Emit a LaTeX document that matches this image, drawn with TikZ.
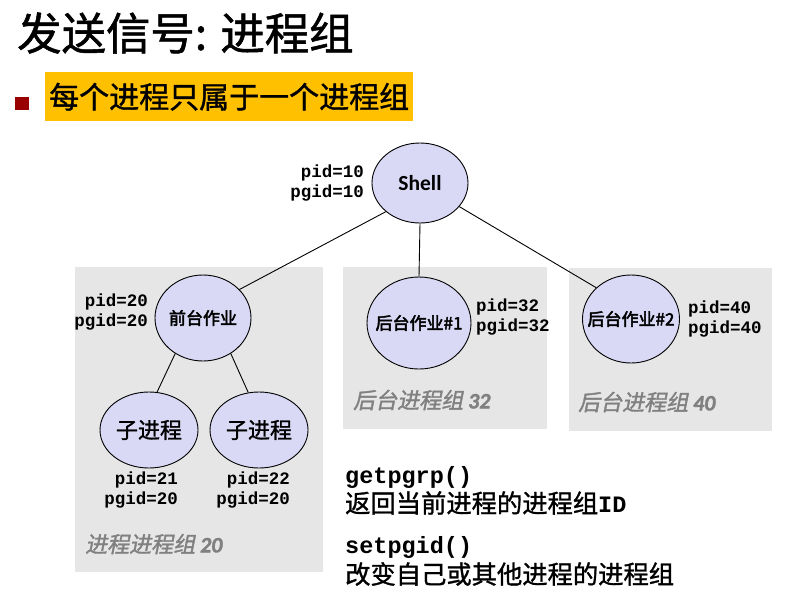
\documentclass[tikz,border=0pt]{standalone}
\usepackage{fontspec}
\setmainfont{Liberation Sans}
\newfontfamily\cjk{Noto Sans CJK SC}[FakeBold=1.2]
\newfontfamily\cjkbf{Noto Sans CJK SC}[FakeBold=2.8]
\newfontfamily\cjkit{Noto Sans CJK SC}[FakeSlant=0.2, FakeBold=1.5]
\newfontfamily\calfont{Carlito}
\newfontfamily\capnum{Carlito}[FakeBold=1.5]
\newfontfamily\pidfont{Liberation Mono}
\usetikzlibrary{shapes.geometric}

\definecolor{procfill}{HTML}{D9D9F5}
\definecolor{groupbg}{HTML}{E6E6E6}
\definecolor{grouptext}{HTML}{808080}
\definecolor{hilite}{HTML}{FFC000}
\definecolor{bulletred}{HTML}{990000}

\tikzset{
  proc/.style={ellipse, draw=black, line width=0.9pt, fill=procfill, inner sep=0pt},
  proctext/.style={inner sep=0pt},
  groupbox/.style={fill=groupbg, inner sep=0pt},
  idlabel/.style={inner sep=0pt, align=right, font=\pidfont\bfseries\fontsize{17.5}{20.5}\selectfont},
  idlabelL/.style={inner sep=0pt, align=left, font=\pidfont\bfseries\fontsize{17.5}{20.5}\selectfont},
  grouplabel/.style={inner sep=0pt, anchor=west, text=grouptext, font=\cjkit\fontsize{22}{22}\selectfont},
  link/.style={line width=0.9pt, draw=black},
  apiname/.style={inner sep=0pt, anchor=west, font=\pidfont\bfseries\fontsize{23.5}{23.5}\selectfont},
  apitext/.style={inner sep=0pt, anchor=west, font=\cjk\fontsize{25.3}{25.3}\selectfont},
}

\begin{document}
\begin{tikzpicture}[x=1pt,y=-1pt]
  \fill[white] (0,0) rectangle (807,598);
  \useasboundingbox (0,0) rectangle (807,598);

  % heading and bullet line
  \node[anchor=west, inner sep=0pt, font=\cjk\fontsize{44.4}{44.4}\selectfont] (title) at (17,33) {发送信号: 进程组};
  \node[fill=bulletred, minimum size=13.5pt, inner sep=0pt] (bullet) at (22,103.5) {};
  \node[fill=hilite, anchor=north west, minimum width=368pt, minimum height=49pt, inner sep=0pt,
        font=\cjk\fontsize{30}{30}\selectfont] (point) at (45,72) {每个进程只属于一个进程组};

  % process group backgrounds
  \node[groupbox, minimum width=248pt, minimum height=305pt] (fgbox) at (199,419.5) {};
  \node[groupbox, minimum width=204pt, minimum height=162pt] (b1box) at (445,348) {};
  \node[groupbox, minimum width=203pt, minimum height=163pt] (b2box) at (670.5,349.5) {};

  % processes (outline first, caption on top)
  \node[proc, minimum width=96pt, minimum height=80pt] (sh) at (420,183) {};
  \node[proc, minimum width=96pt, minimum height=86pt] (fg) at (203,318) {};
  \node[proc, minimum width=98pt, minimum height=76pt] (c1) at (149,430) {};
  \node[proc, minimum width=98pt, minimum height=76pt] (c2) at (259,430) {};
  \node[proc, minimum width=104pt, minimum height=92pt] (b1) at (419,323) {};
  \node[proc, minimum width=97pt, minimum height=88pt] (b2) at (631,319) {};

  \node[proctext, font=\calfont\bfseries\fontsize{21.5}{21.5}\selectfont] (sht) at (sh) {Shell};
  \node[proctext, font=\cjkbf\fontsize{17}{17}\selectfont] (fgt) at (fg) {前台作业};
  \node[proctext, font=\cjk\fontsize{22}{22}\selectfont] (c1t) at (c1) {子进程};
  \node[proctext, font=\cjk\fontsize{22}{22}\selectfont] (c2t) at (c2) {子进程};
  \node[proctext, font=\cjkbf\fontsize{17}{17}\selectfont] (b1t) at (b1) {后台作业\#1};
  \node[proctext, font=\cjkbf\fontsize{17}{17}\selectfont] (b2t) at (b2) {后台作业\#2};

  % tree edges
  \draw[link] (sh.220) -- (fg.38);
  \draw[link] (sh.south) -- (b1.north);
  \draw[link] (sh.329) -- (b2.138);
  \draw[link] (fg.232) -- (c1.78);
  \draw[link] (fg.308) -- (c2.106);

  % pid / pgid labels
  \node[idlabel, anchor=east] (shid) at (364,183) {pid=10\\pgid=10};
  \node[idlabel, anchor=east] (fgid) at (148,312) {pid=20\\pgid=20};
  \node[idlabel, anchor=east] (c1id) at (178,490) {pid=21\\pgid=20};
  \node[idlabel, anchor=east] (c2id) at (290,490) {pid=22\\pgid=20};
  \node[idlabelL, anchor=west] (b1id) at (476,317) {pid=32\\pgid=32};
  \node[idlabelL, anchor=west] (b2id) at (688,319) {pid=40\\pgid=40};

  % group captions
  \node[grouplabel] (fgcap) at (85,544) {进程进程组 {\capnum\bfseries\itshape 20}};
  \node[grouplabel] (b1cap) at (353,400) {后台进程组 {\capnum\bfseries\itshape 32}};
  \node[grouplabel] (b2cap) at (578,402) {后台进程组 {\capnum\bfseries\itshape 40}};

  % system calls
  \node[apiname] (getname) at (345,477) {getpgrp()};
  \node[apitext] (getdesc) at (345,503) {返回当前进程的进程组{\pidfont\bfseries\fontsize{23.5}{23.5}\selectfont ID}};
  \node[apiname] (setname) at (345,547) {setpgid()};
  \node[apitext] (setdesc) at (345,574) {改变自己或其他进程的进程组};
\end{tikzpicture}
\end{document}
